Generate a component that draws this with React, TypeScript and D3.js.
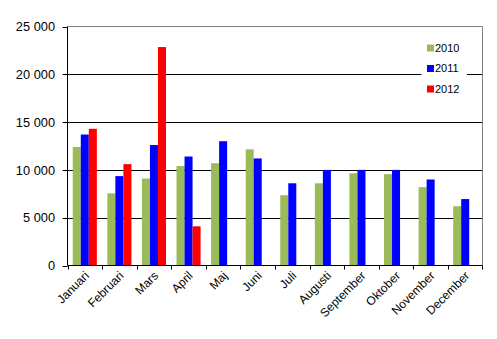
import React from "react";
import * as d3 from "d3";

const months = ["Januari","Februari","Mars","April","Maj","Juni","Juli","Augusti","September","Oktober","November","December"];
const v2010 = [12400, 7550, 9100, 10400, 10700, 12150, 7350, 8600, 9650, 9550, 8200, 6200];
const v2011 = [13700, 9350, 12600, 11400, 13000, 11200, 8600, 10000, 10000, 10000, 9000, 6950];
const v2012: (number | null)[] = [14300, 10600, 22850, 4100, null, null, null, null, null, null, null, null];
const seriesNames = ["2010", "2011", "2012"];
const seriesColors = ["#9BBB59", "#0000FF", "#FF0000"];
const yTicks = [0, 5000, 10000, 15000, 20000, 25000];

const W = 497, H = 339;
const L = 67.5, R = 482.5, T = 26.5, B = 265.5;

export default function App() {
  const x = d3.scaleBand().domain(months).range([L, R]).paddingInner(0).paddingOuter(0);
  const y = d3.scaleLinear().domain([0, 25000]).range([B, T]);
  const series = [v2010, v2011, v2012];
  const bw = x.bandwidth();
  const barW = bw * 0.232;
  const groupOff = (bw - barW * 3) / 2;
  const fmt = (v: number) => d3.format(",")(v).replace(/,/g, " ");
  const font = "'Liberation Sans', Arial, sans-serif";

  return (
    <svg width={W} height={H} style={{ position: "absolute", left: 0, top: 0, background: "#fff" }} fontFamily={font}>
      {yTicks.filter(t => t > 0 && t < 25000).map(t => (
        <line key={t} x1={L} x2={R} y1={Math.round(y(t)) + 0.5} y2={Math.round(y(t)) + 0.5} stroke="#000" strokeWidth={1} />
      ))}
      <line x1={L} x2={R} y1={T} y2={T} stroke="#808080" />
      <line x1={R} x2={R} y1={T} y2={B} stroke="#808080" />
      {series.map((s, si) => s.map((v, i) => v == null ? null : (
        <rect key={si + "-" + i}
          x={(x(months[i]) as number) + groupOff + si * barW}
          y={y(v)} width={barW} height={y(0) - y(v)} fill={seriesColors[si]} />
      )))}
      <line x1={L} x2={L} y1={T} y2={B} stroke="#000" />
      <line x1={L} x2={R} y1={B} y2={B} stroke="#000" />
      {yTicks.map(t => (
        <g key={t}>
          <line x1={L - 5} x2={L} y1={Math.round(y(t)) + 0.5} y2={Math.round(y(t)) + 0.5} stroke="#000" />
          <text x={55} y={y(t)} dy="0.36em" textAnchor="end" fontSize={12.8}>{fmt(t)}</text>
        </g>
      ))}
      {months.map((m, i) => (
        <line key={"t" + i} x1={Math.round(x(m) as number) + 0.5} x2={Math.round(x(m) as number) + 0.5} y1={B} y2={B + 4} stroke="#000" />
      ))}
      <line x1={R} x2={R} y1={B} y2={B + 4} stroke="#000" />
      {months.map((m, i) => {
        const cx = (x(m) as number) + bw / 2 + 2;
        const cy = B + 8;
        return (
          <text key={"l" + i} transform={`translate(${cx},${cy}) rotate(-45)`} textAnchor="end" fontSize={12} dy="0.35em">{m}</text>
        );
      })}
      <rect x={421.5} y={37} width={45.5} height={62} fill="#fff" />
      {seriesNames.map((n, i) => (
        <g key={n} transform={`translate(427,${48 + i * 20.5})`}>
          <rect x={0} y={-3.5} width={7} height={7} fill={seriesColors[i]} />
          <text x={8} y={0} dy="0.36em" fontSize={11}>{n}</text>
        </g>
      ))}
    </svg>
  );
}
